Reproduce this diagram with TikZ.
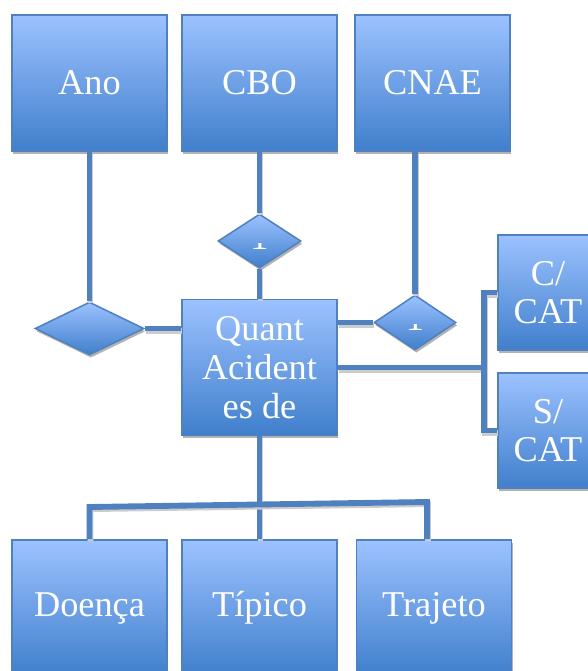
\documentclass[tikz,border=0pt]{standalone}
\usepackage{fontspec}
\setmainfont{Liberation Serif}
\usetikzlibrary{shapes.geometric,shadows}
\definecolor{boxtop}{HTML}{9CC2FF}
\definecolor{boxbot}{HTML}{407FCC}
\definecolor{boxline}{HTML}{4F80C0}
\tikzset{
  entity/.style={rectangle, draw=boxline, line width=1.3pt, top color=boxtop,
    bottom color=boxbot, text=white, align=center, inner sep=0pt,
    minimum width=4.65cm, minimum height=4.08cm,
    font=\fontsize{31}{33}\selectfont,
    drop shadow={shadow xshift=1.2pt, shadow yshift=-2.4pt, fill=black!30, opacity=1}},
  relation/.style={diamond, draw=boxline, line width=1.3pt, top color=boxtop,
    bottom color=boxbot, inner sep=0pt,
    drop shadow={shadow xshift=1.2pt, shadow yshift=-2.4pt, fill=black!30, opacity=1}},
  link/.style={draw=boxline, line width=5pt,
    preaction={draw=black!20, line width=5pt, transform canvas={xshift=0.9pt, yshift=-1.8pt}}},
}
\begin{document}
\begin{tikzpicture}[x=0.03cm, y=-0.03cm]
\useasboundingbox (0,0) rectangle (588,671);
\clip (0,0) rectangle (588,671);

% entities
\node[entity] (ano) at (89.5,83) {Ano};
\node[entity] (cbo) at (259.5,83) {CBO};
\node[entity] (cnae) at (432.5,83) {CNAE};
\node[entity] (quant) at (259.5,367.5) {Quant\\Acident\\es de};
\node[entity, minimum width=3cm, minimum height=3.45cm] (ccat) at (548,292.5) {C/\\CAT};
\node[entity, minimum width=3cm, minimum height=3.45cm] (scat) at (548,430.5) {S/\\CAT};
\node[entity] (doenca) at (89.5,608) {Doença};
\node[entity] (tipico) at (259.5,608) {Típico};
\node[entity] (trajeto) at (434,608) {Trajeto};

% relations
\node[relation, minimum width=3.27cm, minimum height=1.59cm] (dano) at (89.5,328.5) {};
\node[relation, minimum width=2.49cm, minimum height=1.62cm] (dcbo) at (259.5,241) {};
\node[relation, minimum width=2.46cm, minimum height=1.65cm] (dcnae) at (415,322.5) {};

% cut off labels in the relations
\begin{scope}
\clip (250,243) rectangle (270,250);
\node[white, font=\fontsize{31}{33}\selectfont, anchor=base] at (259.5,249) {1};
\end{scope}
\begin{scope}
\clip (405,324) rectangle (425,331);
\node[white, font=\fontsize{31}{33}\selectfont, anchor=base] at (415,330) {1};
\end{scope}

\coordinate (fork) at (484,367.5);
\coordinate (barL) at (89.5,507);
\coordinate (barR) at (427,502);

\draw[link] (ano.south) -- (dano.north);% Ano
\draw[link] (dano.east) -- (dano.east -| quant.west);
\draw[link] (cbo.south) -- (dcbo.north);% CBO
\draw[link] (dcbo.south) -- (quant.north);
\draw[link] (dcnae.north |- cnae.south) -- (dcnae.north);% CNAE
\draw[link] (dcnae.west) -- (dcnae.west -| quant.east);
\draw[link] (quant.east) -- (fork);% CAT
\draw[link] (ccat.west) -| (fork) |- (scat.west);
\draw[link] (quant.south) -- (tipico.north);% tipo
\draw[link] (doenca.north) -- (barL) -- (barR) -- (barR |- trajeto.north);
\end{tikzpicture}
\end{document}
